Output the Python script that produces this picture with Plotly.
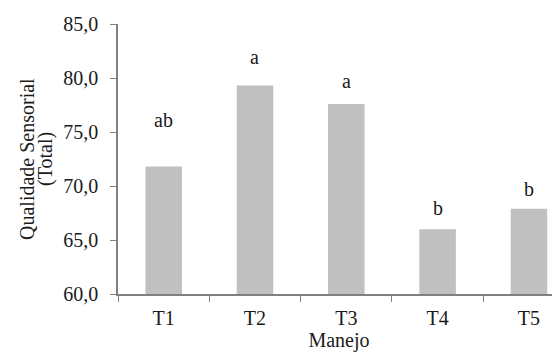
import plotly.graph_objects as go

categories = ["T1", "T2", "T3", "T4", "T5"]
values = [71.8, 79.3, 77.6, 66.0, 67.9]
letters = ["ab", "a", "a", "b", "b"]
letter_y = [76.1, 81.9, 79.7, 68.0, 69.75]
y_ticks = [60, 65, 70, 75, 80, 85]

FONT = "Liberation Serif"
TXT = "#1a1a1a"

fig = go.Figure()
fig.add_trace(go.Bar(
    x=categories, y=values, width=0.4,
    marker=dict(color="#c0c0c0", line=dict(width=0)),
))

for c, t, ly in zip(categories, letters, letter_y):
    fig.add_annotation(x=c, y=ly, text=t, showarrow=False,
                       font=dict(family=FONT, size=20, color=TXT),
                       xanchor="center", yanchor="middle")

# body margin of 8px offsets the figure; plot area spans x 118..560, y 24..294 in the window
L, T, W, H = 110, 16, 552, 350
PW = W - L
fig.add_annotation(xref="paper", yref="paper", x=-L / PW, y=0.5,
                   xshift=19, text="Qualidade Sensorial", textangle=-90,
                   showarrow=False, xanchor="center", yanchor="middle",
                   font=dict(family=FONT, size=20, color=TXT))
fig.add_annotation(xref="paper", yref="paper", x=-L / PW, y=0.5,
                   xshift=37, text="(Total)", textangle=-90,
                   showarrow=False, xanchor="center", yanchor="middle",
                   font=dict(family=FONT, size=20, color=TXT))

fig.update_layout(
    width=W, height=H,
    margin=dict(l=L, r=0, t=T, b=64, pad=0),
    paper_bgcolor="white", plot_bgcolor="white",
    separators=",.",
    showlegend=False,
    font=dict(family=FONT, size=20, color=TXT),
    xaxis=dict(
        range=[-0.5, 4.34], showgrid=False, showline=True,
        linecolor="#808080", linewidth=2,
        ticks="outside", tickson="boundaries", ticklen=6, tickcolor="#808080",
        ticklabelstandoff=5,
        tickfont=dict(family=FONT, size=20, color=TXT),
        title=dict(text="Manejo", standoff=4,
                   font=dict(family=FONT, size=20, color=TXT)),
    ),
    yaxis=dict(
        range=[60, 85], tickvals=y_ticks, tickformat=".1f",
        showgrid=False, zeroline=False, showline=True,
        linecolor="#808080", linewidth=1.5,
        ticks="outside", ticklen=6, tickcolor="#808080",
        ticklabelstandoff=8,
        tickfont=dict(family=FONT, size=20, color=TXT),
    ),
)

fig.write_html("out.html")
